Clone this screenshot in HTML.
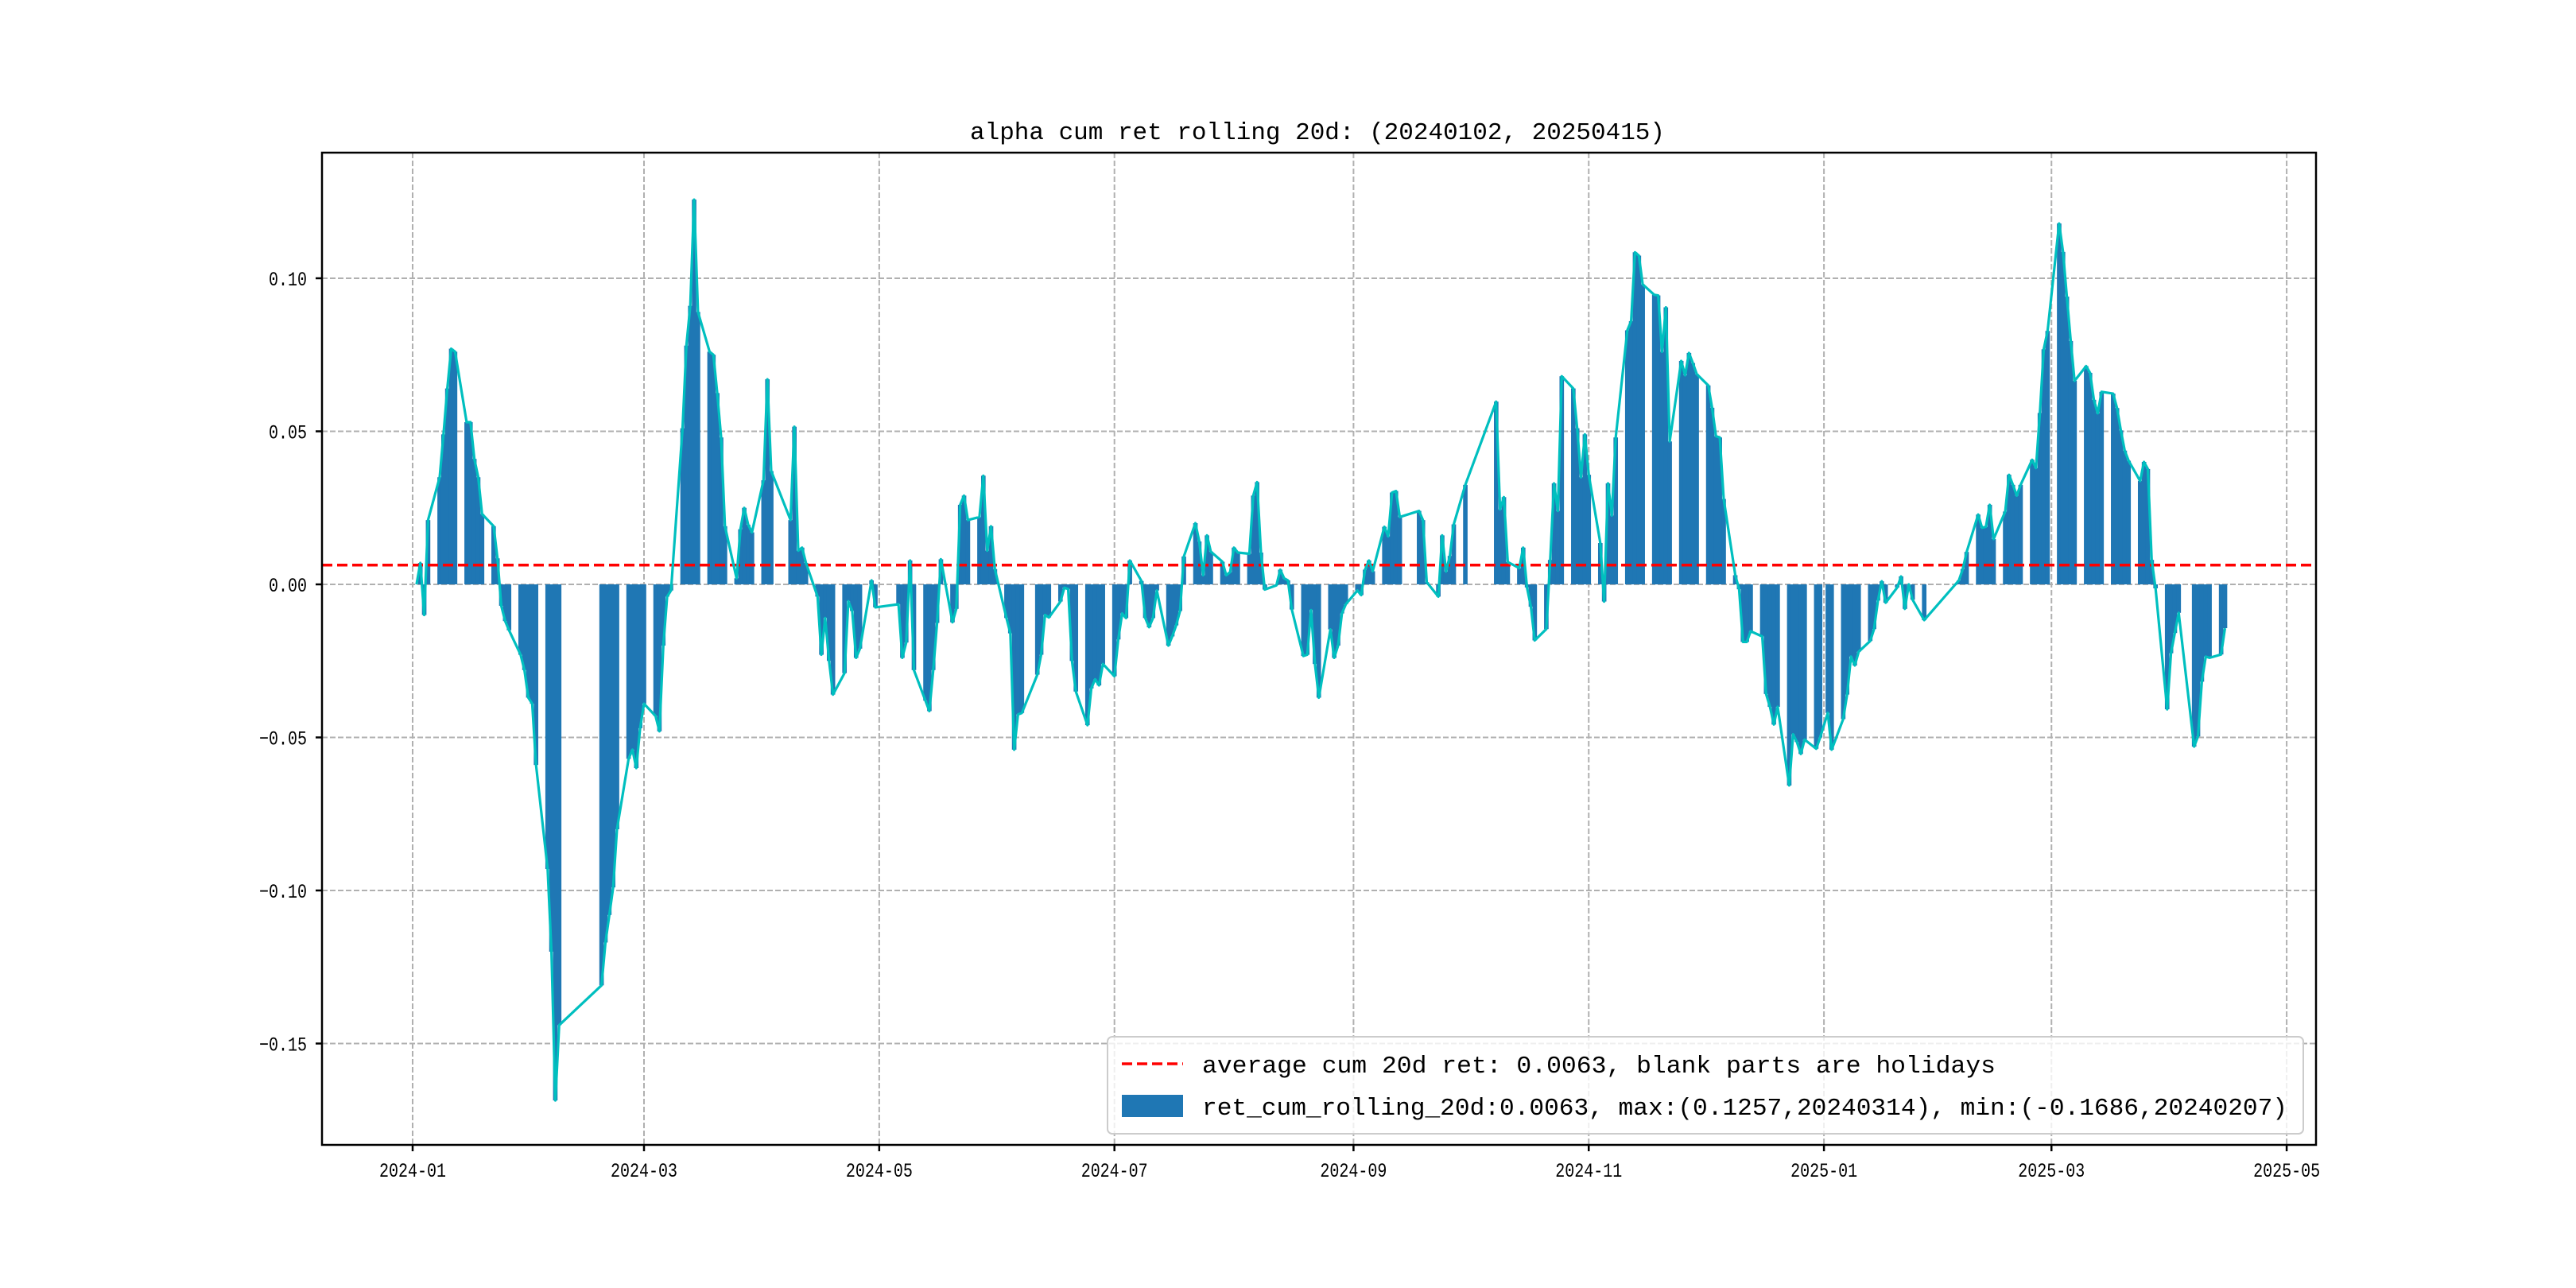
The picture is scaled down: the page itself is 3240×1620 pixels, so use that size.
<!DOCTYPE html>
<html><head><meta charset="utf-8"><style>
html,body{margin:0;padding:0;background:#fff;}
svg{display:block;font-family:"WenQuanYi Zen Hei Mono","WenQuanYi Zen Hei","Liberation Mono",monospace;}
</style></head><body>
<svg id="chart" width="3240" height="1620" viewBox="0 0 3240 1620" xmlns="http://www.w3.org/2000/svg">
<rect width="3240" height="1620" fill="#fff"/>
<text x="1220" y="175" font-size="31" textLength="874" lengthAdjust="spacingAndGlyphs" fill="#000">alpha cum ret rolling 20d: (20240102, 20250415)</text>
<g id="grid"></g>
<g id="bars"></g>
<g id="avgline"></g>
<g id="line"></g>
<rect x="405" y="192" width="2508" height="1248" fill="none" stroke="#000" stroke-width="2.5"/>
<g id="ticks"></g>
<g>
<rect x="1393" y="1304" width="1504" height="122" rx="6" fill="#fff" fill-opacity="0.8" stroke="#ccc" stroke-width="2"/>
<line x1="1411" y1="1338" x2="1488" y2="1338" stroke="#ff0000" stroke-width="3.5" stroke-dasharray="13,6"/>
<text x="1512" y="1349" font-size="31" textLength="998" lengthAdjust="spacingAndGlyphs" fill="#000">average cum 20d ret: 0.0063, blank parts are holidays</text>
<rect x="1411" y="1377" width="77" height="28" fill="#1f77b4"/>
<text x="1512" y="1402" font-size="31" textLength="1365" lengthAdjust="spacingAndGlyphs" fill="#000">ret_cum_rolling_20d:0.0063, max:(0.1257,20240314), min:(-0.1686,20240207)</text>
</g>
</svg>
<script>
const holidays = ["2024-01-01","2024-02-09","2024-02-12","2024-02-13","2024-02-14","2024-02-15","2024-02-16","2024-04-04","2024-04-05","2024-05-01","2024-05-02","2024-05-03","2024-06-10","2024-09-16","2024-09-17","2024-10-01","2024-10-02","2024-10-03","2024-10-04","2024-10-07","2025-01-01","2025-01-28","2025-01-29","2025-01-30","2025-01-31","2025-02-03","2025-02-04","2025-04-04"];
const values = [
0,.007,-.010,.021,.035,.049,.064,.077,.076,.053,.053,.041,.035,.023,.019,.0085,-.007,-.012,-.015,-.023,-.028,-.037,
-.039,-.059,-.093,-.120,-.1686,-.144,-.131,-.117,-.108,-.099,-.080,-.057,-.054,-.060,-.047,
-.039,-.043,-.048,-.020,-.004,-.002,.051,.078,.091,.1257,.089,.076,.075,.0625,.048,.019,.002,.018,.025,.0195,.017,
.034,.067,.037,.021,.0515,.011,.012,.007,-.004,-.023,-.011,-.025,-.036,-.029,-.0055,-.0087,-.024,-.021,.0013,-.0075,
-.0065,-.024,-.019,.0078,-.028,-.038,-.0414,-.028,-.0126,.0082,-.0124,-.008,.026,.029,.021,.022,.0355,.011,.019,.005,
-.011,-.016,-.054,-.0425,-.042,-.0295,-.023,-.010,-.0108,-.0056,-.0011,-.0015,-.025,-.035,-.046,-.034,-.031,-.033,-.026,
-.030,-.018,-.0095,-.011,.0078,.0011,-.011,-.014,-.011,-.002,-.020,-.017,-.0134,-.0087,.0091,.020,.014,.003,.016,.0107,.0074,.003,.004,
.012,.0104,.010,.029,.0334,.0104,-.0017,-.0003,.0048,.002,.0013,-.0082,-.0234,-.023,-.0084,-.026,-.037,-.0147,-.024,-.020,-.0095,-.0065,
-.002,-.0035,.0048,.0078,.0043,.0188,.0157,.030,.0305,.022,.024,.021,.0007,-.004,.016,.0042,.0093,.0196,.0325,
.0597,.0245,.0285,.0073,.0053,.012,-.001,-.0073,-.0183,-.0146,.008,.033,.024,.068,.064,.051,.035,.049,
.0358,.0135,-.0056,.033,.0225,.048,.083,.086,.1085,.1074,.098,.0946,.0944,.076,.0905,.0467,.073,.0683,.0756,.0723,.0687,
.065,.0577,.0484,.048,.0279,.003,-.0016,-.0188,-.0188,-.0153,-.017,-.0358,-.040,-.0458,-.040,-.0657,-.049,-.0515,-.0554,-.0507,-.0537,-.050,
-.042,-.054,-.044,-.036,-.0236,-.0265,-.022,-.0185,-.0146,-.0053,.001,-.006,-.001,.0026,-.008,0,-.005,-.0117,
.0013,.005,.0106,.0228,.0185,.0188,.026,.0148,.0238,.0358,.0325,.029,.0325,.0407,.038,.056,.0768,.0828,
.1179,.1086,.094,.0795,.0665,.0713,.0691,.0603,.0559,.0629,.0623,.0576,.0503,.0437,.0404,.0338,.04,.0377,.008,-.0013,-.0408,
-.0225,-.0159,-.0093,-.053,-.0497,-.0318,-.0236,-.024,-.0229,-.0143
];
const average = [0.0063];
const yTicks = [0.10,0.05,0.00,-0.05,-0.10,-0.15];
const yTickLabels = ["0.10","0.05","0.00","\u22120.05","\u22120.10","\u22120.15"];
const xTickLabels = ["2024-01","2024-03","2024-05","2024-07","2024-09","2024-11","2025-01","2025-03","2025-05"];

const NS="http://www.w3.org/2000/svg";
const DAY=86400000, T0=Date.UTC(2024,0,1);
function dayNum(s){const p=s.split("-");return (Date.UTC(+p[0],+p[1]-1,+(p[2]||1))-T0)/DAY;}
function xs(d){return 519+d*4.85;}
function ys(v){return 735-v*3850;}
function mk(tag,attrs,parent){const e=document.createElementNS(NS,tag);for(const k in attrs)e.setAttribute(k,attrs[k]);parent.appendChild(e);return e;}

const dates=[];
{const hs=new Set(holidays);let t=Date.UTC(2024,0,2);const end=Date.UTC(2025,3,15);
 while(t<=end){const d=new Date(t);const wd=d.getUTCDay();const s=d.toISOString().slice(0,10);
  if(wd!==0&&wd!==6&&!hs.has(s))dates.push(s);t+=DAY;}}

const grid=document.getElementById('grid'),ticks=document.getElementById('ticks');
yTicks.forEach((v,i)=>{
  const y=ys(v);
  const g=mk('line',{x1:405,x2:2913,y1:y,y2:y,stroke:'#b0b0b0','stroke-width':2,'stroke-dasharray':'7,3'},grid);
  
  
  mk('line',{x1:397,x2:405,y1:y,y2:y,stroke:'#000','stroke-width':2.5},ticks);
  const lbl=yTickLabels[i];
  const t=mk('text',{x:386,y:y+9,'font-size':25,'text-anchor':'end',fill:'#000',textLength:lbl.length*12,lengthAdjust:'spacingAndGlyphs'},ticks);
  t.textContent=lbl;
  
  
});
xTickLabels.forEach(s=>{
  const x=xs(dayNum(s));
  const g=mk('line',{x1:x,x2:x,y1:192,y2:1440,stroke:'#b0b0b0','stroke-width':2,'stroke-dasharray':'7,3'},grid);
  
  
  mk('line',{x1:x,x2:x,y1:1440,y2:1448,stroke:'#000','stroke-width':2.5},ticks);
  const t=mk('text',{x:x-42,y:1480,'font-size':25,fill:'#000',textLength:84,lengthAdjust:'spacingAndGlyphs'},ticks);
  t.textContent=s;
  
  
});

const bars=document.getElementById('bars');
const bw=4.85+0.8;
let pts=[];
dates.forEach((s,i)=>{
  const v=values[i]; if(v===undefined)return;
  const x=xs(dayNum(s)), y=ys(v), y0=ys(0);
  const r=mk('rect',{x:x-bw/2,y:Math.min(y,y0),width:bw,height:Math.max(Math.abs(y-y0),0.01),fill:'#1f77b4'},bars);
  
  
  pts.push(x.toFixed(1)+','+y.toFixed(1));
});
const avg=mk('line',{x1:405,x2:2913,y1:ys(average[0]),y2:ys(average[0]),stroke:'#ff0000','stroke-width':3.5,'stroke-dasharray':'13,6'},document.getElementById('avgline'));


const pl=mk('polyline',{points:pts.join(' '),fill:'none',stroke:'#00bfbf','stroke-width':3.2,'stroke-linejoin':'round'},document.getElementById('line'));


</script>
</body></html>
